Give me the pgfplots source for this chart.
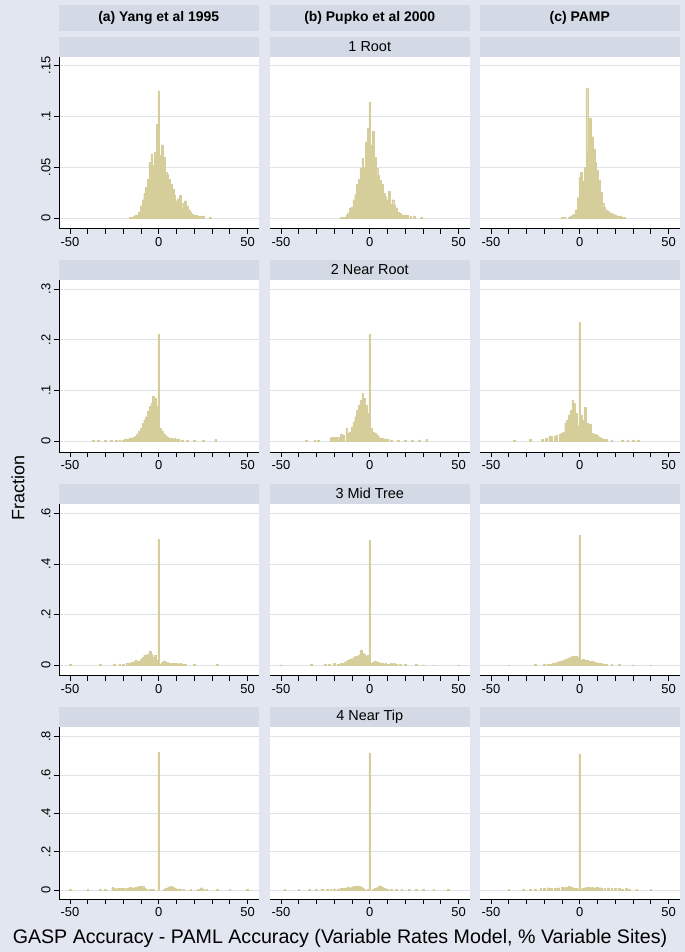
\documentclass[border=0pt]{standalone}
\usepackage{pgfplots}
\pgfplotsset{compat=1.18}
\usepackage{fontspec}
\setmainfont{Liberation Sans}
\definecolor{bgcol}{RGB}{225,230,240}
\definecolor{boxcol}{RGB}{211,217,229}
\definecolor{barcol}{RGB}{213,206,154}
\definecolor{gridcol}{RGB}{222,226,233}

\pgfplotsset{
  panel/.style={scale only axis, width=199.5bp, height=172bp, anchor=north west,
    xmin=-56.2, xmax=56.2, xtick={-50,-40,...,50}, xticklabels={-50,,,,,0,,,,,50},
    axis x line*=bottom, axis y line*=left, tick align=outside, major tick length=5bp,
    ymajorgrids, grid style={gridcol, line width=0.8pt},
    axis background/.style={fill=white},
    ticklabel style={font=\fontsize{13}{15}\selectfont},
    yticklabel style={rotate=90, anchor=south},
    axis line style={black, line width=0.8pt}, tick style={black, line width=0.8pt}},
  hb/.style={ybar, bar width=1, bar shift=0pt, fill=barcol, draw=barcol, line width=0.3pt},
  noy/.style={y axis line style={draw=none}, ytick style={draw=none}, yticklabels={}},
  row1/.style={ymin=-0.0105, ymax=0.1586, ytick={0,0.05,0.1,0.15}, yticklabels={0,.05,.1,.15}},
  row2/.style={ymin=-0.0217, ymax=0.3178, ytick={0,0.1,0.2,0.3}, yticklabels={0,.1,.2,.3}},
  row3/.style={ymin=-0.0415, ymax=0.639, ytick={0,0.2,0.4,0.6}, yticklabels={0,.2,.4,.6}},
  row4/.style={ymin=-0.047, ymax=0.850, ytick={0,0.2,0.4,0.6,0.8}, yticklabels={0,.2,.4,.6,.8}},
}

\begin{document}
\begin{tikzpicture}
\fill[bgcol] (0,0) rectangle (685bp,-952bp);
\useasboundingbox (0,0) rectangle (685bp,-952bp);

% column headers
\foreach \x/\t in {59/{(a) Yang et al 1995}, 270/{(b) Pupko et al 2000}, 480/{(c) PAMP}} {
  \fill[boxcol] (\x bp,-5bp) rectangle ++(199.5bp,-26bp);
  \node[font=\fontsize{14}{16}\selectfont\bfseries] at (\x bp+99.75bp,-18bp) {\t};
}
% row subtitles
\foreach \y/\t in {56.7/{1 Root}, 280/{2 Near Root}, 503.5/{3 Mid Tree}, 727/{4 Near Tip}} {
  \foreach \x in {59,270,480} {
    \fill[boxcol] (\x bp,-\y bp+20bp) rectangle ++(199.5bp,-20bp);
  }
  \node[font=\fontsize{14.5}{16}\selectfont] at (369.75bp,-\y bp+10bp) {\t};
}

% ---- row 1
\begin{axis}[panel,row1,at={(59bp,-56.7bp)}]
\addplot[hb] coordinates {(-16,0.001)(-15,0.001)(-14,0.002)(-13,0.003)(-12,0.003)(-11,0.006)(-10,0.012)(-9,0.018)(-8,0.024)(-7,0.030)(-6,0.038)(-5,0.055)(-4,0.063)(-3,0.052)(-2,0.065)(-1,0.092)(0,0.125)(1,0.062)(2,0.072)(3,0.060)(4,0.045)(5,0.043)(6,0.038)(7,0.033)(8,0.028)(9,0.022)(10,0.017)(11,0.019)(12,0.022)(13,0.015)(14,0.010)(15,0.017)(16,0.012)(17,0.008)(18,0.006)(19,0.004)(20,0.003)(21,0.003)(22,0.002)(23,0.002)(24,0.002)(25,0.002)(29,0.001)};
\end{axis}
\begin{axis}[panel,row1,noy,at={(270bp,-56.7bp)}]
\addplot[hb] coordinates {(-16,0.001)(-15,0.001)(-14,0.001)(-13,0.003)(-12,0.005)(-11,0.010)(-10,0.011)(-9,0.018)(-8,0.023)(-7,0.033)(-6,0.038)(-5,0.049)(-4,0.059)(-3,0.050)(-2,0.075)(-1,0.088)(0,0.114)(1,0.072)(2,0.085)(3,0.060)(4,0.049)(5,0.042)(6,0.037)(7,0.033)(8,0.024)(9,0.021)(10,0.018)(11,0.026)(12,0.014)(13,0.018)(14,0.013)(15,0.010)(16,0.006)(17,0.005)(18,0.003)(19,0.003)(20,0.003)(21,0.003)(23,0.002)(25,0.002)(29,0.001)};
\end{axis}
\begin{axis}[panel,row1,noy,at={(480bp,-56.7bp)}]
\addplot[hb] coordinates {(-10,0.001)(-9,0.001)(-6,0.001)(-5,0.002)(-4,0.003)(-3,0.004)(-2,0.008)(-1,0.020)(0,0.040)(1,0.045)(2,0.036)(3,0.050)(4,0.128)(5,0.066)(6,0.098)(7,0.080)(8,0.068)(9,0.055)(10,0.047)(11,0.037)(12,0.025)(13,0.015)(14,0.011)(15,0.008)(16,0.007)(17,0.005)(18,0.005)(19,0.004)(20,0.003)(21,0.002)(22,0.002)(23,0.002)(24,0.001)(25,0.001)};
\end{axis}

% ---- row 2
\begin{axis}[panel,row2,at={(59bp,-280bp)}]
\addplot[hb] coordinates {(-37,0.001)(-34,0.001)(-30,0.001)(-27,0.001)(-24,0.001)(-22,0.002)(-20,0.002)(-19,0.003)(-18,0.004)(-17,0.004)(-16,0.006)(-15,0.006)(-14,0.008)(-13,0.010)(-12,0.013)(-11,0.020)(-10,0.025)(-9,0.035)(-8,0.042)(-7,0.048)(-6,0.058)(-5,0.068)(-4,0.075)(-3,0.088)(-2,0.085)(-1,0.068)(0,0.210)(1,0.025)(2,0.020)(3,0.014)(4,0.010)(5,0.008)(6,0.006)(7,0.006)(8,0.004)(9,0.006)(10,0.004)(11,0.003)(13,0.002)(16,0.001)(20,0.001)(25,0.001)(32,0.003)};
\end{axis}
\begin{axis}[panel,row2,noy,at={(270bp,-280bp)}]
\addplot[hb] coordinates {(-36,0.001)(-31,0.001)(-29,0.001)(-22,0.006)(-21,0.007)(-20,0.007)(-19,0.007)(-18,0.007)(-16,0.014)(-15,0.012)(-13,0.025)(-12,0.016)(-11,0.018)(-10,0.028)(-9,0.038)(-8,0.048)(-7,0.061)(-6,0.071)(-5,0.080)(-4,0.094)(-3,0.084)(-2,0.071)(-1,0.055)(0,0.210)(1,0.025)(2,0.018)(3,0.015)(4,0.012)(5,0.008)(6,0.006)(7,0.005)(8,0.004)(9,0.004)(10,0.003)(12,0.002)(16,0.001)(20,0.001)(24,0.001)(28,0.002)(32,0.003)};
\end{axis}
\begin{axis}[panel,row2,noy,at={(480bp,-280bp)}]
\addplot[hb] coordinates {(-37,0.001)(-28,0.003)(-21,0.003)(-19,0.006)(-17,0.009)(-16,0.010)(-14,0.010)(-13,0.012)(-11,0.014)(-10,0.016)(-9,0.018)(-8,0.036)(-7,0.041)(-6,0.051)(-5,0.061)(-4,0.080)(-3,0.074)(-2,0.055)(-1,0.030)(0,0.234)(1,0.051)(2,0.041)(3,0.066)(4,0.035)(5,0.034)(6,0.034)(7,0.015)(8,0.013)(9,0.013)(10,0.011)(11,0.008)(12,0.005)(13,0.004)(15,0.003)(18,0.002)(24,0.002)(27,0.002)(30,0.002)(33,0.001)};
\end{axis}

% ---- row 3
\begin{axis}[panel,row3,at={(59bp,-503.5bp)}]
\addplot[hb] coordinates {(-50,0.003)(-33,0.003)(-25,0.005)(-22,0.003)(-20,0.003)(-18,0.006)(-16,0.009)(-15,0.010)(-14,0.013)(-13,0.020)(-12,0.017)(-11,0.014)(-10,0.022)(-9,0.030)(-8,0.040)(-7,0.040)(-6,0.042)(-5,0.055)(-4,0.042)(-3,0.030)(-2,0.039)(-1,0.020)(0,0.497)(1,0.005)(2,0.010)(3,0.017)(4,0.013)(5,0.010)(6,0.008)(7,0.007)(8,0.006)(9,0.005)(10,0.008)(11,0.004)(12,0.008)(13,0.003)(15,0.003)(20,0.003)(33,0.002)};
\end{axis}
\begin{axis}[panel,row3,noy,at={(270bp,-503.5bp)}]
\addplot[hb] coordinates {(-50,0.001)(-33,0.002)(-25,0.004)(-23,0.003)(-20,0.006)(-18,0.004)(-16,0.008)(-15,0.008)(-14,0.012)(-13,0.015)(-12,0.018)(-11,0.022)(-10,0.025)(-9,0.030)(-8,0.035)(-7,0.035)(-6,0.040)(-5,0.060)(-4,0.045)(-3,0.043)(-2,0.034)(-1,0.039)(0,0.493)(1,0.007)(2,0.012)(3,0.016)(4,0.012)(5,0.010)(6,0.008)(7,0.006)(8,0.005)(9,0.006)(10,0.004)(11,0.004)(12,0.008)(13,0.003)(14,0.008)(15,0.002)(17,0.002)(20,0.002)(26,0.002)(30,0.001)(36,0.001)(50,0.001)};
\end{axis}
\begin{axis}[panel,row3,noy,at={(480bp,-503.5bp)}]
\addplot[hb] coordinates {(-40,0.001)(-25,0.002)(-20,0.003)(-18,0.004)(-16,0.005)(-15,0.006)(-14,0.008)(-13,0.010)(-12,0.012)(-11,0.014)(-10,0.016)(-9,0.020)(-8,0.022)(-7,0.025)(-6,0.028)(-5,0.032)(-4,0.035)(-3,0.036)(-2,0.034)(-1,0.030)(0,0.513)(1,0.020)(2,0.022)(3,0.020)(4,0.018)(5,0.016)(6,0.014)(7,0.016)(8,0.010)(9,0.010)(10,0.008)(11,0.006)(12,0.006)(13,0.004)(15,0.003)(18,0.002)(22,0.002)(30,0.001)(40,0.001)};
\end{axis}

% ---- row 4
\begin{axis}[panel,row4,at={(59bp,-727bp)}]
\addplot[hb] coordinates {(-50,0.003)(-40,0.002)(-33,0.003)(-30,0.003)(-26,0.013)(-25,0.010)(-24,0.005)(-23,0.008)(-22,0.010)(-21,0.010)(-20,0.008)(-19,0.006)(-18,0.010)(-17,0.010)(-16,0.013)(-15,0.012)(-14,0.012)(-13,0.014)(-12,0.016)(-11,0.020)(-10,0.020)(-9,0.018)(-8,0.010)(-7,0.004)(-5,0.003)(-3,0.002)(0,0.717)(3,0.004)(4,0.008)(5,0.012)(6,0.017)(7,0.020)(8,0.014)(9,0.010)(10,0.007)(11,0.006)(12,0.006)(14,0.003)(18,0.004)(22,0.003)(24,0.012)(25,0.006)(27,0.002)(33,0.003)(40,0.002)(50,0.003)};
\end{axis}
\begin{axis}[panel,row4,noy,at={(270bp,-727bp)}]
\addplot[hb] coordinates {(-48,0.002)(-40,0.002)(-34,0.003)(-30,0.003)(-27,0.004)(-24,0.006)(-22,0.005)(-20,0.007)(-18,0.006)(-16,0.008)(-15,0.010)(-14,0.008)(-13,0.012)(-12,0.014)(-11,0.012)(-10,0.016)(-9,0.018)(-8,0.020)(-7,0.022)(-6,0.018)(-5,0.016)(-4,0.008)(-3,0.004)(-1,0.003)(0,0.715)(2,0.004)(3,0.008)(4,0.012)(5,0.018)(6,0.022)(7,0.016)(8,0.008)(9,0.006)(10,0.005)(12,0.004)(15,0.003)(18,0.003)(22,0.002)(26,0.003)(30,0.002)(36,0.002)(44,0.002)};
\end{axis}
\begin{axis}[panel,row4,noy,at={(480bp,-727bp)}]
\addplot[hb] coordinates {(-40,0.002)(-32,0.003)(-28,0.004)(-25,0.006)(-22,0.008)(-20,0.010)(-18,0.012)(-16,0.008)(-14,0.010)(-12,0.012)(-10,0.014)(-9,0.012)(-8,0.016)(-7,0.014)(-6,0.018)(-5,0.016)(-4,0.012)(-3,0.010)(-2,0.008)(-1,0.006)(0,0.710)(1,0.006)(2,0.010)(3,0.012)(4,0.014)(5,0.016)(6,0.012)(7,0.014)(8,0.010)(9,0.012)(10,0.014)(11,0.010)(12,0.012)(14,0.010)(16,0.012)(18,0.008)(20,0.010)(22,0.008)(24,0.006)(26,0.008)(28,0.004)(32,0.003)(40,0.002)};
\end{axis}

% axis titles
\node[rotate=90, font=\fontsize{18}{20}\selectfont] at (18bp,-488bp) {Fraction};
\node[font=\fontsize{19.7}{22}\selectfont] at (340bp,-938bp) {GASP Accuracy - PAML Accuracy (Variable Rates Model, \% Variable Sites)};
\end{tikzpicture}
\end{document}
